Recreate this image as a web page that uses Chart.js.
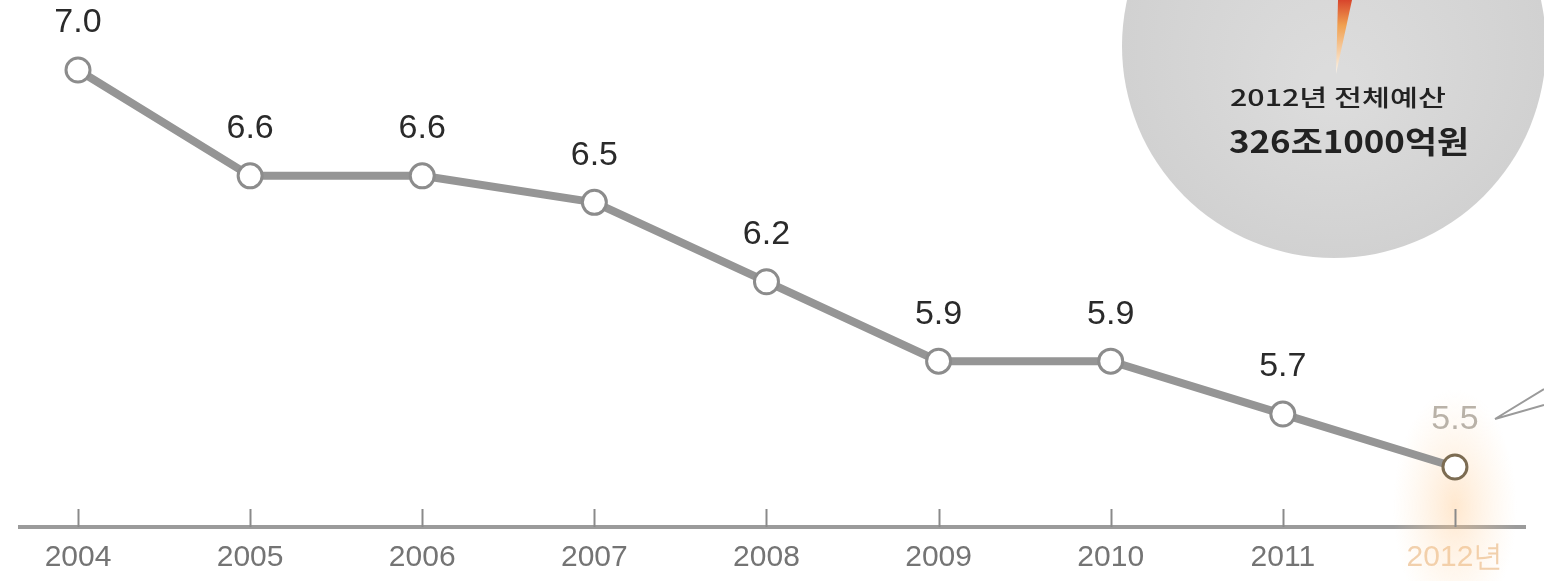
<!DOCTYPE html>
<html>
<head>
<meta charset="utf-8">
<script src="https://cdn.jsdelivr.net/npm/chart.js@4.4.1/dist/chart.umd.min.js"></script>
<style>
  html, body { margin: 0; padding: 0; background: #fff; }
  #wrap { width: 1544px; height: 581px; }
</style>
</head>
<body>
<div id="wrap"><canvas id="budgetChart" width="1544" height="581"></canvas></div>
<script>
// 연도별 비중 (%)
const years = [2004, 2005, 2006, 2007, 2008, 2009, 2010, 2011, 2012];
const shares = [7.0, 6.6, 6.6, 6.5, 6.2, 5.9, 5.9, 5.7, 5.5];
const tickLabels = ["2004", "2005", "2006", "2007", "2008", "2009", "2010", "2011", "2012년"];
const budgetTitle = "2012년 전체예산";
const budgetTotal = "326조1000억원";

const last = years.length - 1;

// 글자를 주어진 폭에 맞춰 가로로 늘리거나 줄여서 그림
function fitText(ctx, text, cx, cy, width) {
  const w = ctx.measureText(text).width;
  ctx.save();
  ctx.translate(cx, cy);
  ctx.scale(width / w, 1);
  ctx.fillText(text, 0, 0);
  ctx.restore();
}

// 오른쪽 위 회색 원 + 예산 문구
const budgetCircle = {
  id: "budgetCircle",
  beforeDraw(chart) {
    const ctx = chart.ctx;
    const cx = 1334, cy = 46, r = 212;
    ctx.save();
    const g = ctx.createRadialGradient(cx, cy + 40, 20, cx, cy, r);
    g.addColorStop(0, "#dcdcdc");
    g.addColorStop(1, "#d1d1d1");
    ctx.fillStyle = g;
    ctx.beginPath();
    ctx.arc(cx, cy, r, 0, Math.PI * 2);
    ctx.fill();

    // 가는 조각
    const sg = ctx.createLinearGradient(0, 0, 0, 72);
    sg.addColorStop(0, "#d8452c");
    sg.addColorStop(0.35, "#f0a050");
    sg.addColorStop(1, "#fbf3e8");
    ctx.fillStyle = sg;
    ctx.beginPath();
    ctx.moveTo(1338, 0);
    ctx.lineTo(1352, 0);
    ctx.lineTo(1336, 74);
    ctx.closePath();
    ctx.fill();

    ctx.fillStyle = "#222";
    ctx.textAlign = "center";
    ctx.textBaseline = "middle";
    ctx.font = "500 23px 'Noto Sans CJK KR'";
    fitText(ctx, budgetTitle, 1338, 97, 216);
    ctx.font = "bold 31px 'Noto Sans CJK KR'";
    fitText(ctx, budgetTotal, 1349, 141, 240);
    ctx.restore();
  }
};

// 2012년 점 주변의 은은한 빛
const glow = {
  id: "glow",
  beforeDatasetsDraw(chart) {
    const ctx = chart.ctx;
    const p = chart.getDatasetMeta(0).data[last];
    ctx.save();
    ctx.translate(p.x, p.y + 40);
    ctx.scale(1, 1.9);
    const g = ctx.createRadialGradient(0, 0, 0, 0, 0, 62);
    g.addColorStop(0, "rgba(255,200,140,0.42)");
    g.addColorStop(1, "rgba(255,220,180,0)");
    ctx.fillStyle = g;
    ctx.beginPath();
    ctx.arc(0, 0, 62, 0, Math.PI * 2);
    ctx.fill();
    ctx.restore();
  }
};

// 값 라벨, 위로 향한 눈금, 화살표 선
const decorations = {
  id: "decorations",
  afterDatasetsDraw(chart) {
    const ctx = chart.ctx;
    const x = chart.scales.x;
    const area = chart.chartArea;
    const pts = chart.getDatasetMeta(0).data;
    ctx.save();

    ctx.strokeStyle = "#8a8a8a";
    ctx.lineWidth = 2;
    years.forEach(v => {
      const px = Math.round(x.getPixelForValue(v)) + 0.5;
      ctx.beginPath();
      ctx.moveTo(px, area.bottom - 18);
      ctx.lineTo(px, area.bottom);
      ctx.stroke();
    });

    ctx.font = "34px 'Liberation Sans', Arial, sans-serif";
    ctx.textAlign = "center";
    ctx.textBaseline = "middle";
    pts.forEach((p, i) => {
      ctx.fillStyle = i === last ? "#b9b2a8" : "#2a2a2a";
      ctx.fillText(shares[i].toFixed(1), p.x, p.y - 47);
    });

    const lp = pts[last];
    ctx.strokeStyle = "#9a9a9a";
    ctx.lineWidth = 2;
    ctx.beginPath();
    ctx.moveTo(lp.x + 40, lp.y - 48);
    ctx.lineTo(1544, lp.y - 78);
    ctx.moveTo(lp.x + 40, lp.y - 48);
    ctx.lineTo(1544, lp.y - 62);
    ctx.stroke();
    ctx.restore();
  }
};

new Chart(document.getElementById("budgetChart"), {
  type: "line",
  data: {
    datasets: [{
      data: years.map((y, i) => ({ x: y, y: shares[i] })),
      borderColor: "#959595",
      borderWidth: 8,
      fill: false,
      tension: 0,
      clip: false,
      pointRadius: 12,
      pointBorderWidth: 3,
      pointBackgroundColor: "#fff",
      pointBorderColor: ctx => ctx.dataIndex === last ? "#7c6c52" : "#8c8c8c"
    }]
  },
  options: {
    responsive: false,
    animation: false,
    layout: { autoPadding: false, padding: { left: 20, right: 19, top: 0, bottom: 7 } },
    plugins: {
      legend: { display: false },
      tooltip: { enabled: false }
    },
    scales: {
      x: {
        type: "linear",
        min: 2003.663,
        max: 2012.407,
        afterBuildTicks: s => { s.ticks = years.map(v => ({ value: v })); },
        afterFit: s => { s.height = 47; },
        border: { display: true, color: "#9b9b9b", width: 4 },
        grid: { display: true, drawOnChartArea: false, drawTicks: false },
        ticks: {
          padding: 13,
          maxRotation: 0,
          autoSkip: false,
          color: ctx => ctx.index === last ? "#f0cfac" : "#747474",
          font: { family: "'Liberation Sans', Arial, sans-serif", size: 30 },
          callback: (v, i) => tickLabels[i]
        }
      },
      y: {
        display: false,
        min: 5.2733,
        max: 7.2645
      }
    }
  },
  plugins: [budgetCircle, glow, decorations]
});
</script>
</body>
</html>
